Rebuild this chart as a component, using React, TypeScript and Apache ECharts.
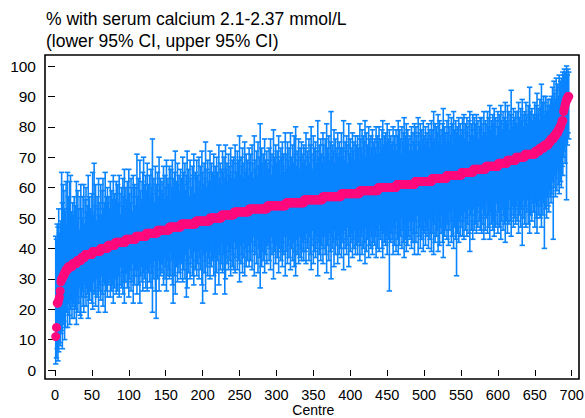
import React, { useEffect, useRef } from "react";
import * as echarts from "echarts";

// Point estimates (% of patients in range), sorted, as value levels and how many centres share each level
const estLevels = [11, 14, 22, 23, 24, 26, 29, 30, 31, 32, 33, 34, 35, 36, 37, 38, 39, 40, 41, 42, 43, 44, 45, 46, 47, 48, 49, 50, 51, 52, 53, 54, 55, 56, 57, 58, 59, 60, 61, 62, 63, 64, 65, 66, 67, 68, 69, 70, 71, 72, 73, 74, 75, 76, 77, 78, 79, 80, 81, 82, 85, 86, 87, 88, 89, 90];
const estRuns = [1, 1, 2, 1, 1, 1, 1, 2, 2, 2, 3, 6, 6, 6, 5, 10, 11, 10, 10, 14, 14, 14, 15, 16, 16, 20, 19, 16, 17, 20, 25, 25, 25, 25, 25, 25, 25, 25, 25, 23, 20, 20, 16, 17, 17, 12, 12, 12, 14, 6, 6, 6, 3, 4, 3, 3, 2, 2, 1, 2, 1, 1, 1, 1, 2, 2];

// Distance from estimate up to the upper 95% CI, per centre
const upperArm = [
  33, 29, 26, 25, 30, 21, 22, 20, 35, 25, 30, 28, 21, 20, 29, 15, 32, 23, 16, 28, 30, 18, 13, 20,
  16, 22, 12, 19, 27, 14, 23, 17, 10, 21, 25, 16, 13, 20, 24, 11, 18, 22, 14, 16, 26, 12, 19, 15,
  14, 20, 26, 12, 29, 15, 22, 10, 18, 14, 24, 12, 16, 21, 11, 19, 23, 13, 15, 25, 12, 17, 20, 14,
  16, 12, 21, 10, 18, 15, 23, 11, 17, 14, 20, 10, 19, 13, 22, 16, 9, 18, 12, 21, 15, 24, 11, 17,
  13, 19, 10, 23, 15, 12, 20, 17, 9, 21, 14, 18, 11, 16, 27, 13, 19, 10, 25, 15, 12, 18, 21, 26,
  17, 11, 20, 14, 23, 10, 16, 19, 12, 21, 15, 31, 13, 18, 10, 22, 16, 14, 19, 11, 24, 15, 17, 13,
  16, 12, 21, 10, 18, 14, 23, 11, 17, 15, 20, 9, 19, 13, 22, 16, 12, 18, 25, 11, 15, 21, 14, 17,
  12, 19, 15, 10, 22, 17, 13, 20, 11, 16, 24, 14, 18, 9, 21, 15, 12, 19, 16, 23, 10, 17, 14, 20,
  15, 11, 21, 13, 18, 10, 23, 16, 12, 19, 14, 26, 11, 17, 20, 13, 16, 22, 12, 18, 15, 10, 21, 14,
  17, 12, 20, 15, 11, 24, 13, 18, 16, 10, 21, 14, 19, 12, 23, 15, 17, 11, 20, 13, 16, 22, 12, 18,
  14, 19, 11, 22, 16, 13, 20, 10, 17, 25, 12, 18, 15, 21, 11, 16, 23, 13, 19, 14, 17, 12, 20, 15,
  18, 12, 21, 15, 10, 24, 16, 13, 19, 11, 22, 14, 17, 28, 12, 20, 15, 18, 11, 23, 16, 13, 19, 14,
  12, 19, 15, 22, 10, 17, 13, 25, 16, 11, 20, 14, 18, 12, 23, 15, 10, 19, 16, 21, 13, 17, 11, 24,
  16, 11, 20, 14, 18, 12, 23, 15, 10, 19, 13, 22, 16, 25, 12, 17, 14, 21, 11, 18, 15, 20, 13, 16,
  19, 13, 17, 22, 11, 16, 14, 20, 12, 18, 24, 15, 10, 21, 13, 17, 19, 12, 16, 26, 14, 18, 11, 20,
  15, 12, 21, 17, 13, 19, 11, 24, 16, 14, 20, 12, 18, 28, 13, 17, 15, 22, 11, 19, 14, 16, 21, 13,
  18, 13, 16, 20, 12, 15, 24, 11, 17, 14, 19, 10, 16, 23, 13, 18, 15, 12, 20, 14, 17, 11, 19, 16,
  13, 19, 15, 11, 22, 17, 14, 20, 12, 18, 16, 23, 11, 19, 15, 13, 21, 17, 12, 18, 14, 20, 16, 11,
  17, 14, 21, 12, 18, 15, 20, 11, 16, 13, 19, 22, 14, 17, 12, 18, 15, 21, 13, 16, 19, 11, 17, 14,
  15, 20, 12, 17, 14, 19, 11, 16, 21, 13, 18, 15, 10, 19, 14, 17, 22, 12, 16, 20, 13, 18, 15, 11,
  16, 13, 19, 11, 17, 14, 20, 12, 18, 15, 10, 21, 16, 13, 19, 11, 17, 14, 20, 15, 12, 18, 13, 16,
  14, 19, 11, 17, 15, 20, 12, 16, 22, 13, 18, 10, 17, 15, 21, 12, 19, 14, 16, 11, 18, 23, 13, 17,
  15, 12, 18, 14, 20, 11, 16, 13, 19, 17, 10, 21, 15, 12, 18, 14, 16, 11, 19, 13, 17, 15, 12, 18,
  14, 19, 11, 16, 13, 18, 15, 10, 17, 20, 12, 16, 14, 19, 11, 17, 13, 15, 18, 12, 16, 10, 14, 17,
  13, 17, 11, 15, 19, 12, 16, 14, 10, 18, 13, 16, 20, 12, 15, 11, 17, 14, 19, 13, 16, 10, 15, 18,
  12, 16, 10, 19, 14, 11, 17, 13, 15, 20, 11, 14, 18, 12, 16, 10, 15, 23, 13, 11, 17, 14, 12, 16,
  11, 15, 10, 18, 13, 10, 16, 12, 19, 14, 10, 15, 11, 17, 13, 10, 16, 12, 22, 14, 10, 15, 11, 13,
  13, 17, 11, 15, 19, 12, 14, 10, 16, 13, 21, 15, 12, 17, 10, 14, 16, 11, 13, 15, 10, 12, 14, 13,
  14, 17, 12, 18, 14, 12, 18, 14, 16, 11, 18, 13, 15, 15, 12, 16, 12, 13, 9, 10, 11, 8, 9, 8,
];

// Distance from estimate down to the lower 95% CI, per centre
const lowerArm = [
  9, 10, 15, 19, 17, 15, 18, 17, 17, 23, 16, 15, 22, 18, 13, 14, 19, 12, 16, 19, 14, 11, 17, 14,
  13, 18, 10, 15, 20, 12, 17, 14, 9, 18, 19, 13, 11, 16, 18, 9, 14, 17, 11, 13, 21, 10, 15, 12,
  12, 16, 19, 10, 14, 13, 18, 9, 15, 12, 20, 11, 13, 17, 9, 15, 19, 11, 12, 21, 10, 14, 16, 12,
  13, 11, 17, 9, 15, 13, 19, 10, 14, 12, 17, 9, 16, 11, 18, 14, 8, 15, 10, 17, 13, 20, 10, 14,
  11, 16, 9, 19, 13, 10, 17, 14, 8, 21, 12, 15, 10, 13, 19, 11, 16, 9, 22, 13, 10, 15, 18, 12,
  14, 10, 17, 12, 19, 9, 13, 16, 10, 18, 13, 26, 11, 15, 9, 19, 28, 12, 16, 10, 20, 13, 15, 11,
  14, 11, 18, 9, 16, 12, 20, 10, 15, 13, 17, 8, 16, 11, 19, 25, 10, 16, 22, 10, 13, 18, 12, 15,
  11, 17, 13, 9, 19, 15, 12, 18, 10, 24, 21, 13, 16, 8, 18, 13, 11, 17, 14, 20, 9, 15, 13, 18,
  14, 10, 19, 12, 16, 9, 21, 27, 11, 17, 13, 23, 10, 15, 18, 12, 14, 20, 11, 16, 14, 9, 19, 13,
  25, 11, 18, 14, 10, 22, 12, 17, 15, 9, 19, 13, 18, 26, 21, 14, 16, 10, 18, 12, 15, 20, 11, 17,
  13, 18, 10, 20, 15, 12, 19, 9, 16, 23, 11, 17, 14, 20, 10, 15, 21, 12, 18, 13, 16, 11, 19, 14,
  17, 11, 20, 14, 9, 22, 15, 12, 18, 10, 21, 13, 16, 26, 11, 19, 14, 17, 10, 21, 15, 12, 18, 13,
  12, 18, 14, 21, 10, 16, 12, 24, 15, 11, 19, 13, 17, 11, 22, 14, 10, 18, 15, 20, 12, 16, 10, 23,
  16, 11, 20, 14, 18, 12, 22, 15, 10, 19, 13, 21, 16, 24, 12, 17, 14, 20, 11, 18, 15, 19, 13, 16,
  19, 13, 17, 21, 11, 16, 14, 20, 12, 18, 23, 15, 10, 21, 13, 17, 19, 12, 16, 25, 14, 18, 11, 20,
  15, 12, 22, 17, 13, 19, 11, 25, 16, 14, 21, 12, 18, 27, 13, 17, 15, 23, 11, 19, 14, 16, 22, 13,
  19, 14, 17, 21, 13, 16, 25, 12, 18, 15, 20, 11, 17, 24, 14, 19, 16, 13, 21, 15, 18, 12, 20, 17,
  14, 20, 16, 12, 23, 18, 15, 21, 13, 19, 17, 24, 12, 20, 16, 14, 22, 18, 13, 19, 15, 21, 17, 12,
  18, 15, 22, 13, 19, 16, 21, 12, 17, 14, 20, 23, 15, 18, 13, 19, 16, 22, 14, 17, 34, 12, 18, 15,
  17, 22, 13, 19, 15, 21, 12, 18, 23, 14, 20, 17, 11, 21, 15, 19, 24, 13, 18, 22, 14, 20, 17, 12,
  18, 15, 21, 12, 19, 16, 23, 13, 20, 17, 11, 24, 18, 15, 22, 12, 19, 16, 23, 17, 13, 21, 15, 18,
  16, 22, 12, 19, 17, 23, 14, 18, 25, 15, 21, 11, 19, 17, 24, 14, 22, 16, 18, 12, 21, 26, 15, 19,
  17, 14, 21, 16, 23, 12, 18, 15, 22, 20, 11, 24, 17, 14, 21, 33, 19, 13, 22, 15, 20, 17, 14, 21,
  16, 22, 13, 19, 15, 21, 17, 12, 20, 26, 14, 19, 16, 22, 13, 20, 15, 18, 21, 14, 19, 12, 17, 20,
  16, 21, 13, 18, 23, 15, 20, 17, 12, 22, 16, 20, 24, 15, 19, 13, 21, 18, 23, 16, 20, 12, 19, 22,
  16, 21, 13, 25, 19, 15, 22, 17, 20, 26, 15, 19, 24, 16, 21, 13, 20, 25, 18, 15, 22, 19, 16, 21,
  16, 21, 14, 25, 19, 15, 23, 17, 29, 20, 14, 22, 17, 24, 19, 15, 23, 18, 26, 20, 14, 22, 16, 19,
  19, 24, 17, 22, 27, 18, 21, 16, 23, 19, 26, 17, 22, 18, 34, 16, 21, 24, 17, 20, 23, 16, 18, 21,
  18, 14, 33, 17, 13, 20, 15, 19, 12, 18, 21, 15, 18, 21, 15, 18, 15, 14, 19, 13, 33, 15, 12, 14,
];

const titleLines = ["% with serum calcium 2.1-2.37 mmol/L", "(lower 95% CI, upper 95% CI)"];
const xAxisName = "Centre";

const BLUE = "#0a84ff";
const PINK = "#ff0a7c";
const FONT = "'Liberation Sans', Arial, Helvetica, sans-serif";

const estimates: number[] = [];
estLevels.forEach((v, k) => {
  for (let j = 0; j < estRuns[k]; j++) estimates.push(v);
});
const ciData = estimates.map((e, i) => [i + 1, e - lowerArm[i], e + upperArm[i]]);
const pointData = estimates.map((e, i) => [i + 1, e]);

export default function App() {
  const ref = useRef<HTMLDivElement>(null);
  useEffect(() => {
    if (!ref.current) return;
    const chart = echarts.init(ref.current, undefined, { renderer: "svg" });
    const capHalf = 2.7;
    chart.setOption({
      animation: false,
      backgroundColor: "#ffffff",
      textStyle: { fontFamily: FONT },
      title: {
        text: titleLines.join("\n"),
        left: 46,
        top: 8,
        padding: 0,
        textStyle: {
          fontFamily: FONT,
          fontSize: 17.5,
          fontWeight: "normal",
          color: "#000",
          lineHeight: 22,
        },
      },
      grid: { left: 55, right: 13.3, top: 66, bottom: 48, containLabel: false, outerBoundsMode: "none" },
      graphic: [
        {
          type: "rect",
          shape: { x: 45, y: 55, width: 534, height: 324 },
          style: { fill: "none", stroke: "#000", lineWidth: 1.6 },
          z: 100,
          silent: true,
        },
      ],
      xAxis: {
        type: "value",
        min: 0,
        max: 700,
        interval: 50,
        offset: 9,
        name: xAxisName,
        nameLocation: "middle",
        nameGap: 24,
        nameMoveOverlap: false,
        nameTextStyle: { fontFamily: FONT, fontSize: 14, color: "#000", lineHeight: 14 },
        axisLine: { show: false },
        axisTick: { show: true, length: 6, lineStyle: { color: "#000", width: 1 } },
        axisLabel: { fontFamily: FONT, fontSize: 14.5, color: "#000", margin: 8, lineHeight: 15 },
        splitLine: { show: false },
      },
      yAxis: {
        type: "value",
        min: 0,
        max: 100,
        interval: 10,
        offset: 10,
        axisLine: { show: false },
        axisTick: { show: true, length: 7, lineStyle: { color: "#000", width: 1 } },
        axisLabel: { fontFamily: FONT, fontSize: 15.5, color: "#000", margin: 9 },
        splitLine: { show: false },
      },
      series: [
        {
          type: "custom",
          name: "95% CI",
          data: ciData,
          encode: { x: 0, y: [1, 2] },
          z: 2,
          renderItem: (params: any, api: any) => {
            const x = api.value(0);
            const pLo = api.coord([x, api.value(1)]);
            const pHi = api.coord([x, api.value(2)]);
            const st = { stroke: BLUE, lineWidth: 1.6 };
            return {
              type: "group",
              children: [
                { type: "line", shape: { x1: pLo[0], y1: pLo[1], x2: pHi[0], y2: pHi[1] }, style: st },
                { type: "line", shape: { x1: pLo[0] - capHalf, y1: pLo[1], x2: pLo[0] + capHalf, y2: pLo[1] }, style: st },
                { type: "line", shape: { x1: pHi[0] - capHalf, y1: pHi[1], x2: pHi[0] + capHalf, y2: pHi[1] }, style: st },
              ],
            };
          },
        },
        {
          type: "scatter",
          name: "Estimate",
          data: pointData,
          symbol: "circle",
          symbolSize: 9,
          itemStyle: { color: PINK, opacity: 1 },
          z: 5,
        },
      ],
    });
    return () => chart.dispose();
  }, []);
  return (
    <div
      ref={ref}
      style={{ position: "fixed", left: 0, top: 0, width: 585, height: 418, background: "#fff" }}
    />
  );
}
